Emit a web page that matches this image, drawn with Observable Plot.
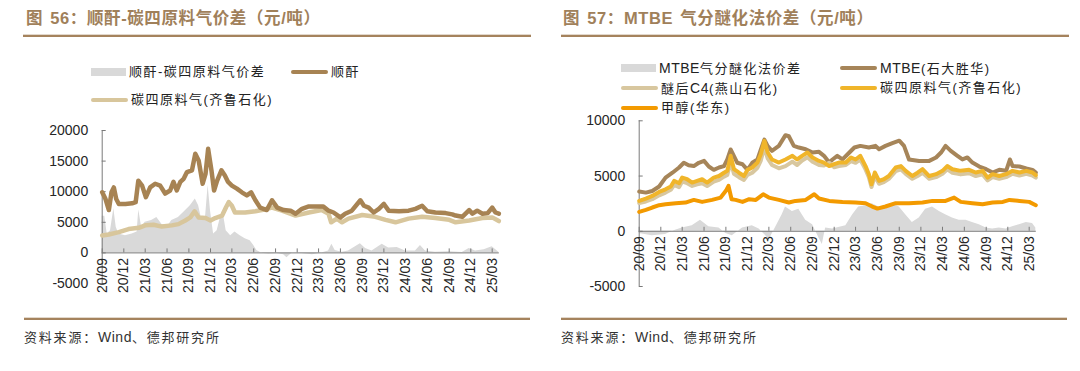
<!DOCTYPE html>
<html><head><meta charset="utf-8">
<script src="https://cdn.jsdelivr.net/npm/d3@7"></script>
<script src="https://cdn.jsdelivr.net/npm/@observablehq/plot@0.6"></script>
<style>
body{margin:0;background:#fff;width:1080px;height:371px;position:relative;overflow:hidden;font-family:"Liberation Sans","Noto Sans CJK SC",sans-serif;}
.abs{position:absolute;}
.title{font-family:"Liberation Sans","Noto Sans CJK SC",sans-serif;font-weight:bold;font-size:16.5px;color:#a0805a;letter-spacing:0.6px;word-spacing:2px;white-space:nowrap;line-height:20px;}
.rule{height:2px;background:#a5835d;border-top:1px solid #e2d8cc;}
.leg{font-size:13px;color:#222;letter-spacing:1.5px;white-space:nowrap;line-height:16px;}
.sw-area{height:8px;background:#d9d9d9;}
.sw-line{height:4px;border-radius:2px;}
.cap{font-size:13px;color:#333;letter-spacing:1.8px;white-space:nowrap;line-height:16px;}
.lat{letter-spacing:0.5px;font-size:14px;}
svg{overflow:visible;}
</style></head><body>

<div class="abs title" style="left:26px;top:8px;">图 56：顺酐-碳四原料气价差（元/吨）</div>
<div class="abs rule" style="left:23px;top:34px;width:508px;"></div>
<div class="abs title" style="left:563px;top:8px;">图 57：MTBE 气分醚化法价差（元/吨）</div>
<div class="abs rule" style="left:561px;top:34px;width:508px;"></div>

<div id="legL"></div>
<div id="legR"></div>

<div id="chartL" class="abs" style="left:0;top:120px;"></div>
<div id="chartR" class="abs" style="left:540px;top:110px;"></div>

<div class="abs rule" style="left:24px;top:317px;width:506px;"></div>
<div class="abs rule" style="left:561px;top:317px;width:506px;"></div>
<div class="abs cap" style="left:24px;top:329px;">资料来源：<span class="lat">Wind</span>、德邦研究所</div>
<div class="abs cap" style="left:561px;top:329px;">资料来源：<span class="lat">Wind</span>、德邦研究所</div>

<script>
// ---------- data ----------
const xTickLabels = ["20/09","20/12","21/03","21/06","21/09","21/12","22/03","22/06","22/09","22/12","23/03","23/06","23/09","23/12","24/03","24/06","24/09","24/12","25/03"];
const leftYTicks = [-5000, 0, 5000, 10000, 15000, 20000];
const rightYTicks = [-5000, 0, 5000, 10000];

// 图56 顺酐
const leftMA = [["2020-09-01",9900],["2020-09-15",8800],["2020-09-29",7000],["2020-10-10",9900],["2020-10-20",10700],["2020-10-30",8800],["2020-11-10",8000],["2020-12-08",8000],["2021-01-05",8100],["2021-01-20",8300],["2021-01-31",11800],["2021-02-16",11000],["2021-03-04",9100],["2021-03-22",10700],["2021-04-12",11300],["2021-05-03",11000],["2021-05-24",9700],["2021-06-14",10200],["2021-06-28",11600],["2021-07-12",10200],["2021-07-27",11600],["2021-08-10",12100],["2021-08-24",13200],["2021-09-14",13500],["2021-09-28",16200],["2021-10-12",15100],["2021-10-29",11300],["2021-11-10",12900],["2021-11-21",17000],["2021-12-05",13500],["2021-12-16",10200],["2021-12-29",11800],["2022-01-16",13500],["2022-01-30",12700],["2022-02-13",11600],["2022-03-01",11000],["2022-03-22",10500],["2022-04-12",9900],["2022-05-03",9400],["2022-05-21",9900],["2022-06-08",8600],["2022-06-28",7400],["2022-07-26",7000],["2022-08-17",8600],["2022-09-08",7400],["2022-10-05",7000],["2022-11-03",6900],["2022-11-24",6400],["2022-12-21",7200],["2023-01-19",7600],["2023-02-24",7600],["2023-03-21",7600],["2023-04-12",6900],["2023-05-03",6600],["2023-06-01",5800],["2023-06-21",6400],["2023-07-19",6900],["2023-08-24",8600],["2023-09-08",7700],["2023-09-28",7400],["2023-10-19",6600],["2023-11-10",7200],["2023-12-01",8000],["2023-12-21",6900],["2024-02-03",6800],["2024-03-14",6900],["2024-04-12",7200],["2024-05-10",7700],["2024-06-01",6800],["2024-07-05",6600],["2024-08-17",6500],["2024-09-14",6300],["2024-09-28",6100],["2024-10-26",5900],["2024-11-24",7000],["2024-12-08",6400],["2024-12-28",6900],["2025-01-19",6400],["2025-02-10",6500],["2025-03-01",7400],["2025-03-15",6600],["2025-03-29",6400]];
// 图56 碳四原料气(齐鲁石化)
const leftC4 = [["2020-09-01",2840],["2020-09-29",3000],["2020-11-10",3400],["2020-12-21",3900],["2021-02-02",4100],["2021-03-01",4500],["2021-04-05",4600],["2021-05-10",4300],["2021-06-21",4500],["2021-07-19",4700],["2021-08-17",5300],["2021-09-07",5800],["2021-09-25",6800],["2021-10-12",5800],["2021-11-10",5700],["2021-12-01",5300],["2021-12-21",5700],["2022-01-19",6100],["2022-02-05",7500],["2022-02-16",8300],["2022-03-01",7700],["2022-03-14",6600],["2022-04-26",6600],["2022-06-08",6800],["2022-07-05",7000],["2022-08-17",7400],["2022-09-28",6900],["2022-11-24",6100],["2023-01-19",6600],["2023-03-14",7000],["2023-04-12",6400],["2023-04-23",5000],["2023-05-17",5600],["2023-06-08",5000],["2023-07-05",5600],["2023-09-01",6200],["2023-10-26",5900],["2023-12-08",5400],["2024-01-19",5000],["2024-03-14",5600],["2024-05-10",5900],["2024-07-05",5700],["2024-09-01",5400],["2024-09-28",5000],["2024-11-24",5300],["2025-01-19",5700],["2025-03-01",5800],["2025-03-29",5200]];
// 图56 顺酐-碳四原料气价差
const leftSpread = [["2020-09-01",6000],["2020-09-12",6000],["2020-09-22",3100],["2020-10-06",3600],["2020-10-20",7200],["2020-10-30",4200],["2020-11-10",3100],["2020-12-08",2800],["2021-01-05",3100],["2021-01-26",3400],["2021-02-02",7000],["2021-02-14",4200],["2021-03-01",5000],["2021-03-28",5300],["2021-04-19",5800],["2021-05-10",4700],["2021-06-01",4200],["2021-06-21",5300],["2021-07-19",5800],["2021-08-17",6900],["2021-09-07",7700],["2021-09-28",8800],["2021-10-12",7700],["2021-10-26",5300],["2021-11-10",5800],["2021-11-21",11000],["2021-12-01",6900],["2021-12-14",3100],["2021-12-29",3600],["2022-01-12",5800],["2022-01-22",6900],["2022-02-05",3600],["2022-02-24",2800],["2022-03-14",3400],["2022-04-05",2800],["2022-04-26",2300],["2022-05-17",2000],["2022-06-01",1200],["2022-06-14",400],["2022-07-05",-50],["2022-08-03",-200],["2022-09-08",-100],["2022-10-05",-300],["2022-10-19",-800],["2022-11-10",0],["2022-12-21",-100],["2023-02-03",-300],["2023-03-14",0],["2023-04-12",300],["2023-04-26",1400],["2023-05-10",400],["2023-06-08",100],["2023-07-05",300],["2023-08-24",1500],["2023-09-15",700],["2023-10-12",300],["2023-11-24",1400],["2023-12-21",800],["2024-01-26",900],["2024-03-01",300],["2024-04-12",300],["2024-05-03",1200],["2024-05-24",300],["2024-07-05",100],["2024-09-01",200],["2024-10-26",50],["2024-11-24",700],["2024-12-21",300],["2025-01-26",500],["2025-03-01",1000],["2025-03-29",100]];

// 图57 MTBE(石大胜华)
const rightMTBE = [["2020-09-01",3600],["2020-09-29",3500],["2020-10-26",3650],["2020-11-24",4050],["2020-12-21",4860],["2021-01-19",5300],["2021-02-16",5770],["2021-03-08",6200],["2021-03-28",5980],["2021-04-19",5900],["2021-05-10",6200],["2021-06-01",6370],["2021-06-21",5860],["2021-07-12",5560],["2021-08-03",5770],["2021-08-24",5900],["2021-09-07",6500],["2021-09-21",7400],["2021-10-05",6800],["2021-10-19",6200],["2021-11-10",6070],["2021-12-01",5560],["2021-12-21",6200],["2022-01-12",6500],["2022-01-26",7400],["2022-02-10",8300],["2022-02-24",7700],["2022-03-14",7280],["2022-04-12",7730],["2022-05-10",8700],["2022-05-24",8600],["2022-06-14",7730],["2022-07-05",7580],["2022-08-03",7430],["2022-09-01",7130],["2022-09-28",7190],["2022-10-19",6830],["2022-11-10",6220],["2022-11-24",6500],["2022-12-14",6830],["2023-01-05",6500],["2023-02-03",7130],["2023-02-24",7580],["2023-03-21",7730],["2023-04-26",7580],["2023-05-24",7730],["2023-06-08",7430],["2023-07-05",7730],["2023-08-03",7980],["2023-09-01",8200],["2023-09-21",7730],["2023-10-12",6500],["2023-11-24",6370],["2024-01-05",6370],["2024-02-03",6680],["2024-02-24",7130],["2024-03-14",7730],["2024-04-05",7280],["2024-05-03",6830],["2024-05-24",6500],["2024-06-14",6680],["2024-07-05",6220],["2024-08-03",5860],["2024-09-01",5620],["2024-09-28",5320],["2024-10-26",5560],["2024-11-24",5470],["2024-12-10",6500],["2024-12-21",5900],["2025-01-19",5860],["2025-02-17",5680],["2025-03-15",5560],["2025-03-29",5320]];
// 图57 dates shared by 醚后C4 and 碳四原料气
const rightC4Dates = ["2020-09-01","2020-09-29","2020-10-26","2020-11-24","2020-12-21","2021-01-12","2021-01-26","2021-02-16","2021-03-01","2021-03-22","2021-04-12","2021-05-03","2021-05-24","2021-06-14","2021-07-12","2021-08-03","2021-08-24","2021-09-07","2021-09-21","2021-10-05","2021-10-26","2021-11-16","2021-12-01","2021-12-21","2022-01-12","2022-01-26","2022-02-10","2022-02-24","2022-03-14","2022-04-12","2022-05-10","2022-06-08","2022-06-28","2022-07-19","2022-08-10","2022-09-01","2022-09-28","2022-10-19","2022-11-10","2022-12-01","2022-12-21","2023-01-19","2023-02-10","2023-03-01","2023-03-21","2023-04-12","2023-04-26","2023-05-07","2023-05-21","2023-06-08","2023-06-28","2023-07-19","2023-08-17","2023-09-08","2023-09-28","2023-10-26","2023-11-17","2023-12-08","2024-01-05","2024-02-03","2024-03-01","2024-03-21","2024-04-12","2024-05-17","2024-06-21","2024-07-19","2024-08-17","2024-09-07","2024-09-28","2024-10-26","2024-11-24","2024-12-21","2025-01-19","2025-02-17","2025-03-15","2025-03-29"];
// 碳四原料气(齐鲁石化)
const rightQilu = [2750,2960,3200,3560,3800,4050,4560,4350,4860,4710,4410,4560,4710,4410,4860,5000,5300,5470,6830,5620,5300,5000,5560,5770,6220,6980,8180,7130,6500,6220,6500,6830,6500,6830,7130,6680,6370,6220,5900,6070,6220,6220,6680,6500,6830,5900,5170,4260,5320,4560,4710,5000,5770,5900,5470,5000,5300,5620,5000,5170,5470,5900,5620,5470,5560,5320,5470,4860,5170,5000,5170,5470,5320,5470,5320,5080];
// 醚后C4(燕山石化)
const rightYanshan = [2550,2700,2900,3250,3500,3750,4200,4000,4500,4350,4100,4250,4350,4100,4500,4650,4950,5100,6300,5200,4900,4650,5100,5300,5750,6400,7600,6600,6000,5700,5900,6300,6000,6400,6700,6300,6000,5950,6200,5800,5900,6000,6350,6200,6500,5600,4900,4000,5000,4300,4450,4750,5450,5600,5200,4750,5000,5300,4750,4900,5200,5600,5300,5150,5250,5000,5150,4600,4900,4750,4900,5200,5050,5200,5050,4850];
// 甲醇(华东)
const rightMeOH = [["2020-09-01",1750],["2020-09-29",1930],["2020-10-26",2150],["2020-11-24",2360],["2020-12-21",2450],["2021-02-02",2540],["2021-03-15",2600],["2021-04-19",2840],["2021-05-24",2660],["2021-07-05",2840],["2021-08-10",3050],["2021-09-01",3660],["2021-09-12",4110],["2021-09-25",2900],["2021-10-12",2840],["2021-11-10",2660],["2021-12-08",2900],["2022-01-05",2840],["2022-02-05",3350],["2022-03-01",3050],["2022-04-12",2840],["2022-05-24",2600],["2022-06-21",2750],["2022-08-03",2840],["2022-09-08",3350],["2022-09-28",2960],["2022-11-10",2750],["2023-01-05",2660],["2023-03-01",2600],["2023-04-12",2540],["2023-05-10",2240],["2023-06-01",2050],["2023-07-05",2240],["2023-08-17",2540],["2023-10-12",2540],["2023-12-08",2600],["2024-01-19",2750],["2024-03-14",2750],["2024-04-19",3050],["2024-05-17",2660],["2024-07-05",2540],["2024-08-17",2450],["2024-09-28",2600],["2024-11-10",2660],["2024-12-08",2840],["2025-01-19",2750],["2025-03-01",2660],["2025-03-29",2360]];
// 图57 MTBE气分醚化法价差
const rightSpread = [["2020-09-01",-200],["2020-10-26",-400],["2020-12-21",-300],["2021-01-19",0],["2021-03-01",300],["2021-04-12",500],["2021-05-17",1000],["2021-06-21",400],["2021-08-03",300],["2021-09-01",-200],["2021-09-28",-400],["2021-11-10",300],["2021-12-21",500],["2022-01-19",200],["2022-02-16",-400],["2022-03-01",-800],["2022-03-28",300],["2022-04-26",1500],["2022-05-10",2200],["2022-06-08",1800],["2022-07-05",2000],["2022-08-03",1000],["2022-09-01",600],["2022-09-28",-600],["2022-10-12",-1200],["2022-10-26",300],["2022-11-24",200],["2023-01-19",500],["2023-02-17",1500],["2023-03-14",2200],["2023-04-12",2300],["2023-05-10",2500],["2023-06-08",2200],["2023-07-05",2300],["2023-08-03",2500],["2023-09-01",2200],["2023-09-28",1500],["2023-10-26",800],["2023-11-24",1200],["2023-12-21",2000],["2024-01-19",2200],["2024-02-17",1800],["2024-03-14",1500],["2024-04-12",1200],["2024-05-10",1000],["2024-06-08",1000],["2024-07-05",800],["2024-08-03",600],["2024-09-01",300],["2024-09-28",200],["2024-10-26",300],["2024-11-24",200],["2024-12-21",400],["2025-01-19",600],["2025-02-17",800],["2025-03-15",700],["2025-03-29",300]];

// ---------- helpers ----------
const parse = s => new Date(s + "T00:00:00Z");
const toObj = arr => arr.map(([d, v]) => ({date: parse(d), value: v}));
const zipObj = (dates, vals) => dates.map((d, i) => ({date: parse(d), value: vals[i]}));
const xTickDates = xTickLabels.map(s => new Date(Date.UTC(2000 + +s.slice(0, 2), +s.slice(3) - 1, 1)));
const xDomain = [parse("2020-09-01"), parse("2025-03-31")];
const axisColor = "#7a7a7a";
const style = {fontFamily: "'Liberation Sans', Arial, sans-serif", fontSize: "14px", color: "#262626", background: "transparent", overflow: "visible"};

function frameMarks(yTicks) {
  return [
    Plot.ruleY([0], {stroke: axisColor, strokeWidth: 1}),
    Plot.ruleX([xDomain[0]], {stroke: axisColor, strokeWidth: 1}),
    Plot.ruleX(xTickDates, {x: d => d, y1: () => 0, y2: () => 0, insetTop: -4, stroke: axisColor}),
    Plot.ruleY(yTicks, {y: d => d, x1: () => xDomain[0], x2: () => xDomain[0], insetRight: -4, stroke: axisColor})
  ];
}
function xLabels() {
  return Plot.text(xTickLabels, {x: (d, i) => xTickDates[i], y: () => 0, text: d => d, rotate: -90, textAnchor: "end", dy: 5, fontSize: 14, fill: "#262626"});
}
const lineOpts = (stroke, w) => ({x: "date", y: "value", stroke, strokeWidth: w, strokeLinejoin: "round", strokeLinecap: "round"});

// ---------- left chart ----------
const left = Plot.plot({
  width: 540, height: 180,
  marginLeft: 101.7, marginRight: 41.2, marginTop: 10, marginBottom: 17,
  x: {type: "utc", domain: xDomain, axis: null},
  y: {domain: [-5000, 20000], ticks: leftYTicks, tickSize: 0, tickPadding: 14, tickFormat: d => String(d), label: null},
  style,
  marks: [
    Plot.areaY(toObj(leftSpread), {x: "date", y: "value", fill: "#d9d9d9"}),
    ...frameMarks(leftYTicks),
    Plot.line(toObj(leftC4), lineOpts("#d8c69c", 4.5)),
    Plot.line(toObj(leftMA), lineOpts("#a78353", 4.5)),
    xLabels()
  ]
});
document.getElementById("chartL").appendChild(left);

// ---------- right chart ----------
const right = Plot.plot({
  width: 540, height: 190,
  marginLeft: 98.7, marginRight: 44.2, marginTop: 10.3, marginBottom: 14,
  x: {type: "utc", domain: xDomain, axis: null},
  y: {domain: [-5000, 10000], ticks: rightYTicks, tickSize: 0, tickPadding: 14, tickFormat: d => String(d), label: null},
  style,
  marks: [
    Plot.areaY(toObj(rightSpread), {x: "date", y: "value", fill: "#d9d9d9"}),
    ...frameMarks(rightYTicks),
    Plot.line(toObj(rightMTBE), lineOpts("#a68559", 4)),
    Plot.line(zipObj(rightC4Dates, rightYanshan), lineOpts("#d8c79f", 4)),
    Plot.line(zipObj(rightC4Dates, rightQilu), lineOpts("#f0b52a", 4)),
    Plot.line(toObj(rightMeOH), lineOpts("#f39a00", 4)),
    xLabels()
  ]
});
document.getElementById("chartR").appendChild(right);

// ---------- legends ----------
const legendItems = [
  {host: "legL", kind: "area", color: "#d9d9d9", label: "顺酐-碳四原料气价差", x: 91, y: 72},
  {host: "legL", kind: "line", color: "#a78353", label: "顺酐", x: 291, y: 72},
  {host: "legL", kind: "line", color: "#d8c69c", label: "碳四原料气(齐鲁石化)", x: 91, y: 100},
  {host: "legR", kind: "area", color: "#d9d9d9", label: "MTBE气分醚化法价差", x: 621, y: 68},
  {host: "legR", kind: "line", color: "#a68559", label: "MTBE(石大胜华)", x: 840, y: 68},
  {host: "legR", kind: "line", color: "#d8c79f", label: "醚后C4(燕山石化)", x: 621, y: 88},
  {host: "legR", kind: "line", color: "#f0b52a", label: "碳四原料气(齐鲁石化)", x: 840, y: 88},
  {host: "legR", kind: "line", color: "#f39a00", label: "甲醇(华东)", x: 621, y: 108}
];
for (const it of legendItems) {
  const host = document.getElementById(it.host);
  const sw = document.createElement("div");
  sw.className = "abs " + (it.kind === "area" ? "sw-area" : "sw-line");
  const w = it.kind === "area" ? 35 : 37, h = it.kind === "area" ? 8 : 4;
  sw.style.cssText += `left:${it.x}px;top:${it.y - h / 2}px;width:${w}px;background:${it.color};`;
  host.appendChild(sw);
  const t = document.createElement("div");
  t.className = "abs leg";
  t.style.cssText += `left:${it.x + w + 3}px;top:${it.y - 8}px;`;
  t.innerHTML = it.label.replace(/([A-Za-z0-9]+)/g, '<span class="lat">$1</span>');
  host.appendChild(t);
}
</script>
</body></html>
